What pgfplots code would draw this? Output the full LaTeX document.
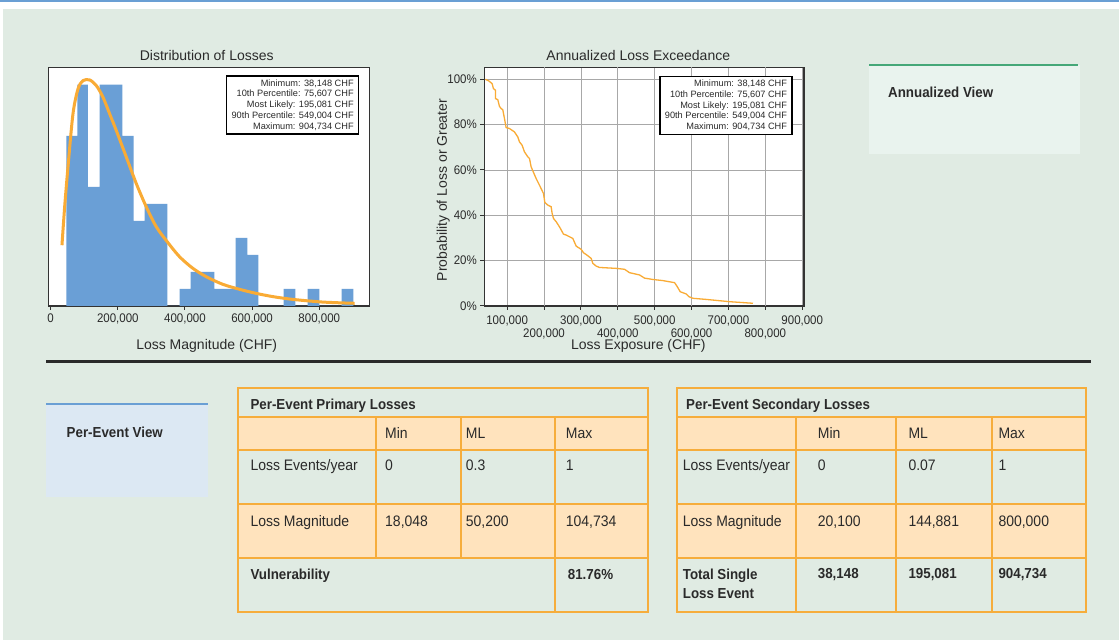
\documentclass[border=0pt]{standalone}
\usepackage{pgfplots}
\pgfplotsset{compat=1.18}
\usepackage{fontspec}
\setmainfont{Liberation Sans}
\newfontfamily\cond{Liberation Sans}[FakeStretch=0.92]
\definecolor{bgGreen}{HTML}{E0EBE3}
\definecolor{topBlue}{HTML}{6A9FD4}
\definecolor{annFill}{HTML}{E9F3EE}
\definecolor{annGreen}{HTML}{45A778}
\definecolor{perFill}{HTML}{DCE8F3}
\definecolor{tblOrange}{HTML}{F6AD3C}
\definecolor{tblFill}{HTML}{FFE3BD}
\definecolor{textDark}{HTML}{2A2A2A}
\definecolor{histBlue}{HTML}{6A9FD6}
\definecolor{curveOrange}{HTML}{F9AB35}
\definecolor{axisDark}{HTML}{333333}
\definecolor{gridGray}{HTML}{A8A8A8}
\newcommand\tblfont{\cond\fontsize{15.2}{18}\selectfont\color{textDark}}
\newcommand\tblbold{\cond\bfseries\fontsize{14.5}{18}\selectfont\color{textDark}}
\newcommand\tickfont{\cond\fontsize{12.5}{12.6}\selectfont\color{textDark}}
\newcommand\boxfont{\fontsize{9.2}{10.8}\selectfont\color{textDark}}
\newcommand\labfont{\fontsize{14}{16}\selectfont\color{textDark}}
\begin{document}
\begin{tikzpicture}[x=1pt,y=1pt]
\useasboundingbox (0,0) rectangle (1119,640);
% background
\fill[white] (0,0) rectangle (1119,640);
\fill[topBlue] (0,638) rectangle (1119,640);
\fill[bgGreen] (3,0) rectangle (1119,631);
% separator
\fill[textDark] (46,277.3) rectangle (1091,280);
% Annualized view box
\fill[annFill] (869,486) rectangle (1080,575);
\fill[annGreen] (869,574) rectangle (1078,576);
\node[anchor=base west, inner sep=0, font=\tblbold] at (888,542.5) {Annualized View};
% Per-event view box
\fill[perFill] (46,143.3) rectangle (208.4,236);
\fill[topBlue] (46,235) rectangle (208.4,236.7);
\node[anchor=base west, inner sep=0, font=\tblbold] at (66.5,202.5) {Per-Event View};
% Primary table
\fill[tblFill] (238,190) rectangle (648,222.5);
\fill[tblFill] (238,82) rectangle (648,136);
\begin{scope}[draw=tblOrange, line width=2pt]
\draw (238,28.3) rectangle (648,252);
\draw (238,222.5) -- (648,222.5);
\draw (238,190) -- (648,190);
\draw (238,136) -- (648,136);
\draw (238,82) -- (648,82);
\draw (376,222.5) -- (376,82);
\draw (461,222.5) -- (461,82);
\draw (555,222.5) -- (555,28.3);
\end{scope}
\begin{scope}[every node/.style={anchor=base west, inner sep=0}]
\node[font=\tblbold] at (250.3,230.8) {Per-Event Primary Losses};
\node[font=\tblfont] at (385,201.9) {Min};
\node[font=\tblfont] at (465.7,201.9) {ML};
\node[font=\tblfont] at (565.7,201.9) {Max};
\node[font=\tblfont] at (250.3,169.6) {Loss Events/year};
\node[font=\tblfont] at (385,169.6) {0};
\node[font=\tblfont] at (465.7,169.6) {0.3};
\node[font=\tblfont] at (565.7,169.6) {1};
\node[font=\tblfont] at (250.3,113.6) {Loss Magnitude};
\node[font=\tblfont] at (385,113.6) {18,048};
\node[font=\tblfont] at (465.7,113.6) {50,200};
\node[font=\tblfont] at (565.7,113.6) {104,734};
\node[font=\tblbold] at (250.3,60.5) {Vulnerability};
\node[font=\tblbold] at (567.7,60.5) {81.76\%};
\end{scope}
% Secondary table
\fill[tblFill] (676.7,190) rectangle (1085.7,222.5);
\fill[tblFill] (676.7,82) rectangle (1085.7,136);
\begin{scope}[draw=tblOrange, line width=2pt]
\draw (676.7,28.3) rectangle (1085.7,252);
\draw (676.7,222.5) -- (1085.7,222.5);
\draw (676.7,190) -- (1085.7,190);
\draw (676.7,136) -- (1085.7,136);
\draw (676.7,82) -- (1085.7,82);
\draw (795.7,222.5) -- (795.7,28.3);
\draw (895.7,222.5) -- (895.7,28.3);
\draw (992.3,222.5) -- (992.3,28.3);
\end{scope}
\begin{scope}[every node/.style={anchor=base west, inner sep=0}]
\node[font=\tblbold] at (686,230.8) {Per-Event Secondary Losses};
\node[font=\tblfont] at (817.7,201.9) {Min};
\node[font=\tblfont] at (908.3,201.9) {ML};
\node[font=\tblfont] at (998.3,201.9) {Max};
\node[font=\tblfont] at (682.7,169.6) {Loss Events/year};
\node[font=\tblfont] at (817.7,169.6) {0};
\node[font=\tblfont] at (908.3,169.6) {0.07};
\node[font=\tblfont] at (998.3,169.6) {1};
\node[font=\tblfont] at (682.7,113.6) {Loss Magnitude};
\node[font=\tblfont] at (817.7,113.6) {20,100};
\node[font=\tblfont] at (908.3,113.6) {144,881};
\node[font=\tblfont] at (998.3,113.6) {800,000};
\node[font=\tblbold] at (682.7,60.5) {Total Single};
\node[font=\tblbold] at (682.7,41.5) {Loss Event};
\node[font=\tblbold] at (817.7,62) {38,148};
\node[font=\tblbold] at (908.3,62) {195,081};
\node[font=\tblbold] at (998.3,62) {904,734};
\end{scope}
% Histogram
\begin{axis}[
  at={(48.3pt,334pt)}, anchor=south west, scale only axis,
  width=321pt, height=238.3pt,
  xmin=-7000, xmax=949000, ymin=0, ymax=14,
  axis background/.style={fill=white},
  axis line style={draw=axisDark, line width=1.5pt},
  ytick=\empty,
  xtick={0,200000,400000,600000,800000},
  xticklabels={0,{200,000},{400,000},{600,000},{800,000}},
  xtick pos=bottom,
  scaled x ticks=false,
  tick align=outside, major tick length=4pt,
  every tick/.style={draw=axisDark, line width=1pt},
  xticklabel style={font=\tickfont},
  clip mode=individual,
]
\addplot[ybar interval, fill=histBlue, draw=none] coordinates {
(46700,10) (79400,13) (111200,7) (145900,13) (179700,13) (213400,10)
(247200,5) (279900,6) (313700,6) (347400,0) (384100,1) (416900,2)
(451600,2) (487400,1) (519200,1) (550900,4) (585600,3) (618400,0)
(693800,1) (728600,0) (765300,1) (800000,0) (866500,1) (901300,0)};
\addplot[smooth, curveOrange, line width=3pt] coordinates {
(33700,3.57) (41700,5.82) (51600,8.16) (66500,11.29) (81400,12.75)
(96300,13.24) (116100,13.28) (136000,12.95) (155800,12.27) (175700,11.29)
(195500,10.31) (225300,8.75) (255100,7.19) (284900,5.82) (314700,4.65)
(347400,3.77) (384100,2.89) (423800,2.21) (463500,1.72) (513200,1.27)
(562800,0.98) (612400,0.74) (662000,0.55) (711700,0.41) (761300,0.31)
(811000,0.23) (870500,0.18) (905300,0.16)};
\node[draw=black, line width=1.4pt, fill=white, align=right, anchor=north east,
  inner xsep=5pt, inner ysep=3.5pt, font=\boxfont]
  at (rel axis cs:0.969,0.968)
  {Minimum: 38,148 CHF\\10th Percentile: 75,607 CHF\\Most Likely: 195,081 CHF\\90th Percentile: 549,004 CHF\\Maximum: 904,734 CHF};
\node[font=\labfont] at (rel axis cs:0.4935,1) [yshift=11.7pt] {Distribution of Losses};
\node[font=\labfont] at (rel axis cs:0.4935,0) [yshift=-40pt] {Loss Magnitude (CHF)};
\end{axis}
% Exceedance
\begin{axis}[
  at={(484.3pt,334pt)}, anchor=south west, scale only axis,
  width=319.7pt, height=238.7pt,
  xmin=38148, xmax=904734, ymin=0, ymax=105.3,
  axis background/.style={fill=white},
  axis line style={draw=axisDark, line width=1.5pt},
  grid=major, grid style={draw=gridGray, line width=0.8pt},
  xtick={100000,300000,500000,700000,900000},
  xticklabels={{100,000},{300,000},{500,000},{700,000},{900,000}},
  extra x ticks={200000,400000,600000,800000},
  extra x tick labels={{200,000},{400,000},{600,000},{800,000}},
  extra x tick style={grid=major, xticklabel style={yshift=-12.6pt}},
  xticklabel style={font=\tickfont, yshift=-2.5pt},
  ytick={0,20,40,60,80,100},
  yticklabels={0\%,20\%,40\%,60\%,80\%,100\%},
  yticklabel style={font=\tickfont},
  xtick pos=bottom, ytick pos=left,
  scaled x ticks=false,
  tick align=outside, major tick length=4pt,
  every tick/.style={draw=axisDark, line width=1pt},
  clip mode=individual,
]
\addplot[curveOrange, line width=1.3pt] coordinates {
(41200,100) (50300,99.3) (59300,98.1) (62900,95.9) (68400,95.2) (68400,91.5)
(74700,91.0) (79200,88.1) (83700,87.1) (88200,86.6) (92800,82.7) (97300,78.7)
(106300,78.3) (119900,76.8) (128900,74.6) (133500,72.4) (140700,70.9) (147000,68)
(156100,65.8) (160600,65.1) (165100,61.4) (178700,56.2) (192200,51.8) (198600,49.6)
(202200,45.7) (210300,44.5) (219300,43.8) (222100,40.8) (225700,38.6) (232900,37.2)
(242000,34.9) (252800,31.7) (260000,31.3) (278100,29.8) (287200,26.4) (300700,25)
(307000,23.5) (316000,22.5) (327800,21) (332400,18.8) (341400,17.6) (350400,17)
(395600,16.6) (418200,16.2) (431800,14.7) (458900,13.7) (472500,12.3) (495100,11.7)
(522200,11.2) (553800,10.3) (560200,8.8) (569200,6.3) (585500,5.3) (592800,4.1)
(603600,3.4) (639800,2.9) (703100,1.9) (766400,1.2)};
\node[draw=black, line width=1.4pt, fill=white, align=right, anchor=north east,
  inner xsep=5pt, inner ysep=3.5pt, font=\boxfont]
  at (rel axis cs:0.9647,0.965)
  {Minimum: 38,148 CHF\\10th Percentile: 75,607 CHF\\Most Likely: 195,081 CHF\\90th Percentile: 549,004 CHF\\Maximum: 904,734 CHF};
\node[font=\labfont] at (rel axis cs:0.4817,1) [yshift=11.7pt] {Annualized Loss Exceedance};
\node[font=\labfont] at (rel axis cs:0.4817,0) [yshift=-40pt] {Loss Exposure (CHF)};
\node[font=\labfont, rotate=90] at ([xshift=-41pt]rel axis cs:0,0.486) {Probability of Loss or Greater};
\end{axis}
\end{tikzpicture}
\end{document}
